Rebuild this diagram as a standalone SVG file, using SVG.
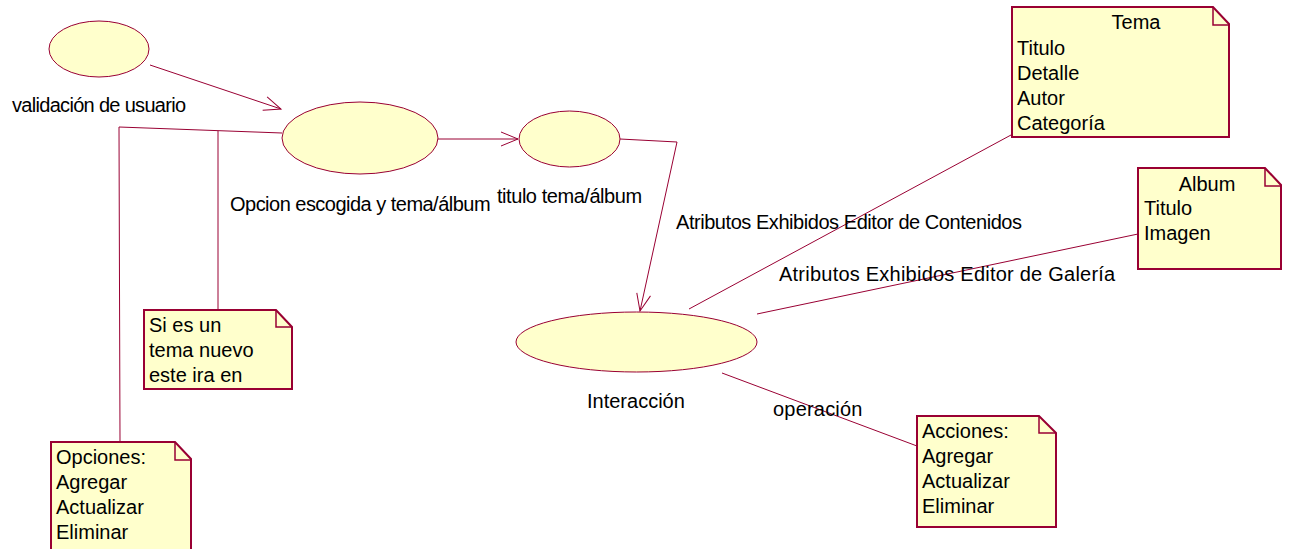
<svg xmlns="http://www.w3.org/2000/svg" width="1290" height="549" viewBox="0 0 1290 549">
  <defs>
    <style>
      .uc { fill: #FFFFCC; stroke: #990033; stroke-width: 1; }
      .note { fill: #FFFFCC; stroke: #990033; stroke-width: 2; }
      .fold { fill: none; stroke: #990033; stroke-width: 1.5; }
      .conn { fill: none; stroke: #990033; stroke-width: 1; }
      text { font-family: "Liberation Sans", Arial, sans-serif; font-size: 20px; fill: #000; }
      .mid { text-anchor: middle; }
      .tight { letter-spacing: -0.45px; }
    </style>
    <marker id="open" viewBox="0 0 20 20" refX="18" refY="10" markerWidth="20" markerHeight="20" markerUnits="userSpaceOnUse" orient="auto">
      <path d="M1,3 L18,10 L1,17" fill="none" stroke="#990033" stroke-width="1"/>
    </marker>
  </defs>

  <!-- connectors -->
  <g id="connectors">
    <line class="conn" x1="150" y1="65" x2="281" y2="109" marker-end="url(#open)"/>
    <line class="conn" x1="438" y1="139" x2="518" y2="139" marker-end="url(#open)"/>
    <polyline class="conn" points="620,139 677,142 640,311" marker-end="url(#open)"/>
    <polyline class="conn" points="282,133 119,127 120,442"/>
    <line class="conn" x1="218" y1="131" x2="218" y2="310"/>
    <line class="conn" x1="689" y1="309" x2="1011" y2="135"/>
    <line class="conn" x1="757" y1="314" x2="1138" y2="234"/>
    <line class="conn" x1="722" y1="373" x2="917" y2="446"/>
  </g>

  <!-- use cases -->
  <g id="validacion">
    <ellipse class="uc" cx="99" cy="49" rx="50" ry="28"/>
    <text x="12" y="112" letter-spacing="-0.69">validación de usuario</text>
  </g>
  <g id="opcion">
    <ellipse class="uc" cx="360" cy="138" rx="78" ry="36"/>
    <text x="230" y="211" letter-spacing="-0.52">Opcion escogida y tema/álbum</text>
  </g>
  <g id="titulo">
    <ellipse class="uc" cx="569.5" cy="139" rx="50.5" ry="28"/>
    <text class="tight" x="497" y="203">titulo tema/álbum</text>
  </g>
  <g id="interaccion">
    <ellipse class="uc" cx="636.5" cy="342" rx="120.5" ry="30"/>
    <text x="587" y="408">Interacción</text>
  </g>

  <!-- connector labels -->
  <g id="labels">
    <text class="tight" x="676" y="229">Atributos Exhibidos Editor de Contenidos</text>
    <text x="779" y="281" letter-spacing="0.23">Atributos Exhibidos Editor de Galería</text>
    <text x="773" y="416" letter-spacing="0.2">operación</text>
  </g>

  <!-- notes -->
  <g id="note-tema">
    <path class="note" d="M1012,7 H1213 L1229,24 V137 H1012 Z"/>
    <path class="fold" d="M1213,7 V25 H1229"/>
    <text class="mid" x="1136" y="29">Tema</text>
    <text x="1017" y="55">Titulo</text>
    <text x="1017" y="80">Detalle</text>
    <text x="1017" y="105">Autor</text>
    <text x="1017" y="130">Categoría</text>
  </g>
  <g id="note-album">
    <path class="note" d="M1138,168 H1265 L1281,185 V269 H1138 Z"/>
    <path class="fold" d="M1265,168 V186 H1281"/>
    <text class="mid" x="1207" y="191">Album</text>
    <text x="1144" y="215">Titulo</text>
    <text x="1144" y="240">Imagen</text>
  </g>
  <g id="note-tema-nuevo">
    <path class="note" d="M144,310 H276 L292,327 V389 H144 Z"/>
    <path class="fold" d="M276,310 V327 H292"/>
    <text x="149" y="332">Si es un</text>
    <text x="149" y="357">tema nuevo</text>
    <text x="149" y="382">este ira en</text>
  </g>
  <g id="note-opciones">
    <path class="note" d="M51,442 H175 L191,459 V560 H51 Z"/>
    <path class="fold" d="M175,442 V460 H191"/>
    <text x="56" y="464">Opciones:</text>
    <text x="56" y="489">Agregar</text>
    <text x="56" y="514">Actualizar</text>
    <text x="56" y="539">Eliminar</text>
  </g>
  <g id="note-acciones">
    <path class="note" d="M917,416 H1039 L1056,433 V527 H917 Z"/>
    <path class="fold" d="M1039,416 V433 H1056"/>
    <text x="922" y="438">Acciones:</text>
    <text x="922" y="463">Agregar</text>
    <text x="922" y="488">Actualizar</text>
    <text x="922" y="513">Eliminar</text>
  </g>
</svg>
